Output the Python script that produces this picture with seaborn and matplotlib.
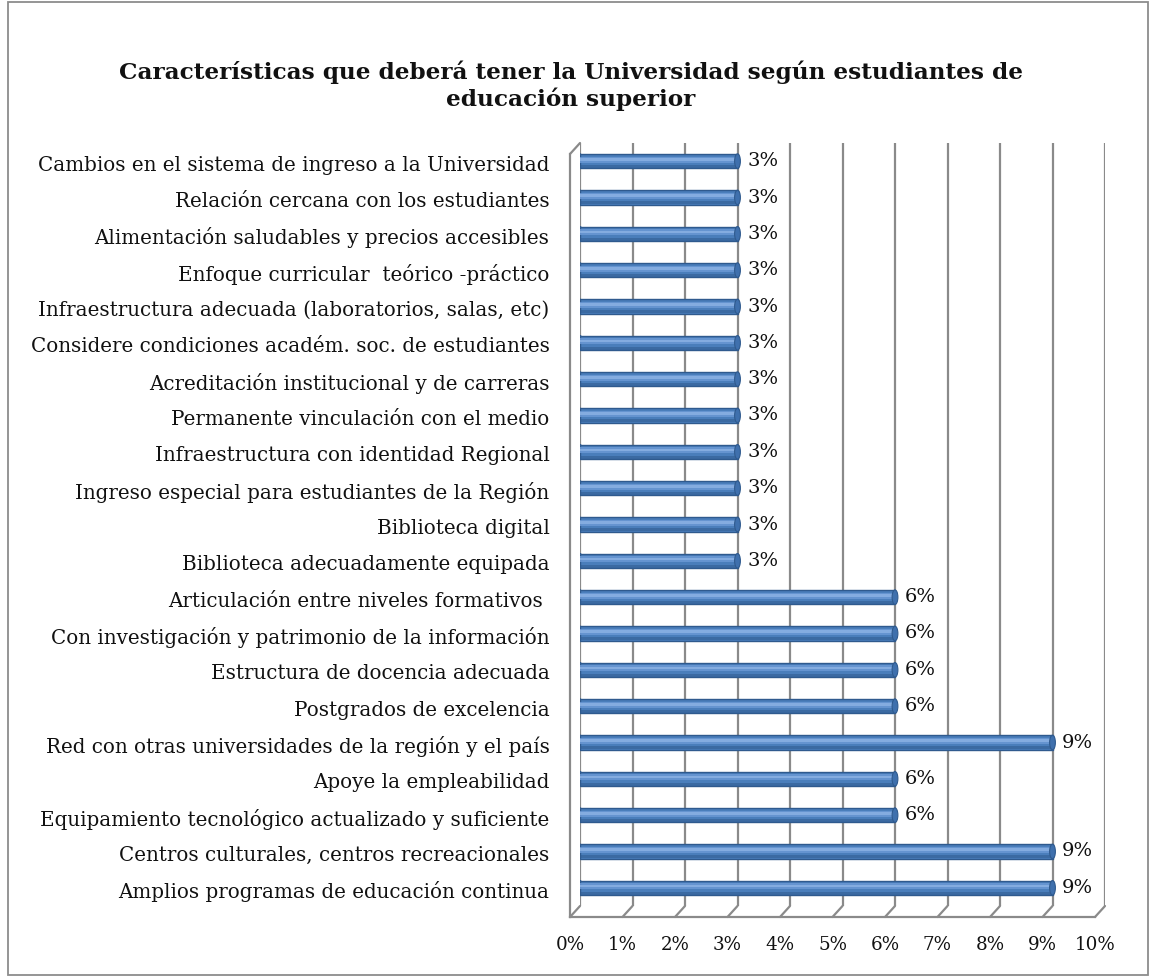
import matplotlib
matplotlib.use("Agg")
import matplotlib.pyplot as plt
import seaborn as sns
import pandas as pd
import numpy as np
from matplotlib.patches import Rectangle, ConnectionPatch, Ellipse
from matplotlib.ticker import PercentFormatter
from matplotlib.transforms import ScaledTranslation

# ---- data -------------------------------------------------------------
caracteristicas = [
    "Cambios en el sistema de ingreso a la Universidad",
    "Relación cercana con los estudiantes",
    "Alimentación saludables y precios accesibles",
    "Enfoque curricular  teórico -práctico",
    "Infraestructura adecuada (laboratorios, salas, etc)",
    "Considere condiciones académ. soc. de estudiantes",
    "Acreditación institucional y de carreras",
    "Permanente vinculación con el medio",
    "Infraestructura con identidad Regional",
    "Ingreso especial para estudiantes de la Región",
    "Biblioteca digital",
    "Biblioteca adecuadamente equipada",
    "Articulación entre niveles formativos ",
    "Con investigación y patrimonio de la información",
    "Estructura de docencia adecuada",
    "Postgrados de excelencia",
    "Red con otras universidades de la región y el país",
    "Apoye la empleabilidad",
    "Equipamiento tecnológico actualizado y suficiente",
    "Centros culturales, centros recreacionales",
    "Amplios programas de educación continua",
]
porcentajes = [0.03] * 12 + [0.06, 0.06, 0.06, 0.06, 0.09, 0.06, 0.06, 0.09, 0.09]
ticks_x = [i / 100 for i in range(11)]

titulo = ("Características que deberá tener la Universidad según estudiantes de\n"
          "educación superior")

df = pd.DataFrame({"caracteristica": caracteristicas, "valor": porcentajes})

# ---- figure -----------------------------------------------------------
W, H = 1150, 977
sns.set_theme(style="white")
plt.rcParams["font.family"] = ["DejaVu Serif"]

fig = plt.figure(figsize=(W / 100, H / 100), dpi=100)


def rect(x0, y0, x1, y1):
    """Pixel box (top-left origin) -> figure fraction rect."""
    return [x0 / W, 1 - y1 / H, (x1 - x0) / W, (y1 - y0) / H]


GRID = "#8a8a8a"
BAR = "#4a7ebb"
EDGE = "#2f5a8e"
TEXT = "#111111"
BAR_H = 0.40

# back wall (holds the bars and gridlines)
ax = fig.add_axes(rect(580, 143, 1105, 906))
# front edge of the floor / left wall (holds axis ticks and labels)
dx, dy = -10, 11
front = fig.add_axes(rect(580 + dx, 143 + dy, 1105 + dx, 906 + dy), zorder=0)
front.patch.set_alpha(0)
ax.patch.set_alpha(0)
ax.set_zorder(1)

n = len(caracteristicas)
pos = np.arange(n)

# gridlines on the back wall
for x in ticks_x:
    ax.axvline(x, color=GRID, linewidth=1.6, zorder=0.5)

sns.barplot(data=df, x="valor", y="caracteristica", orient="h", color=BAR,
            width=BAR_H, edgecolor=EDGE, linewidth=1.0, saturation=1, ax=ax)
for p in ax.containers[0]:
    p.set_zorder(2)

# cylinder shading: light band above the centre, dark band below
ax.barh(pos - 0.04, porcentajes, height=0.17, color="#6a98d4", alpha=0.85,
        linewidth=0, zorder=3)
ax.barh(pos - 0.05, porcentajes, height=0.07, color="#8fb5e6", alpha=0.75,
        linewidth=0, zorder=3)
ax.barh(pos + 0.15, porcentajes, height=0.08, color="#2f5a8e", alpha=0.55,
        linewidth=0, zorder=3)
# rounded ends of each cylinder
for i, v in zip(pos, porcentajes):
    ax.add_patch(Ellipse((0, i), 0.0011, BAR_H, facecolor=BAR, edgecolor=EDGE,
                         linewidth=0.8, zorder=1.9))
    ax.add_patch(Ellipse((v, i), 0.0011, BAR_H, facecolor="#3f70ad",
                         edgecolor=EDGE, linewidth=0.8, zorder=4))

labels = ax.bar_label(ax.containers[0], labels=[f"{v:.0%}" for v in porcentajes],
                      padding=7, fontsize=14, color=TEXT)
for t in labels:
    t.set_transform(t.get_transform() + ScaledTranslation(0, -3 / 100, fig.dpi_scale_trans))

ax.set_xlim(0, 0.10)
ax.set_ylim(n - 0.5, -0.5)
ax.set_xticks(ticks_x)
ax.grid(False)
ax.tick_params(axis="x", length=0, labelbottom=False)
ax.tick_params(axis="y", length=0, pad=22, labelsize=14.3, labelcolor=TEXT)
for t in ax.get_yticklabels():
    t.set_transform(t.get_transform() + ScaledTranslation(0, -2 / 100, fig.dpi_scale_trans))
ax.set_xlabel("")
ax.set_ylabel("")
for s in ax.spines.values():
    s.set_visible(False)

# front axes: left wall edge and floor front edge
front.set_xlim(0, 0.10)
front.set_ylim(n - 0.5, -0.5)
front.set_xticks(ticks_x)
front.xaxis.set_major_formatter(PercentFormatter(1.0, decimals=0))
front.set_yticks(np.arange(-0.5, n, 1.0))
front.set_yticklabels([])
front.tick_params(axis="x", direction="out", length=7, width=1.4, color=GRID,
                  labelsize=13.2, labelcolor=TEXT, pad=7)
front.tick_params(axis="y", direction="out", length=6, width=1.4, color=GRID)
front.grid(False)
for side in ("top", "right"):
    front.spines[side].set_visible(False)
for side in ("left", "bottom"):
    front.spines[side].set_color(GRID)
    front.spines[side].set_linewidth(1.6)

# depth edges joining the back wall to the front edges
for x in ticks_x:
    fig.add_artist(ConnectionPatch(xyA=(x, n - 0.5), coordsA=ax.transData,
                                   xyB=(x, n - 0.5), coordsB=front.transData,
                                   color=GRID, linewidth=1.6))
fig.add_artist(ConnectionPatch(xyA=(0, -0.5), coordsA=ax.transData,
                               xyB=(0, -0.5), coordsB=front.transData,
                               color=GRID, linewidth=1.6))

# title and chart border
fig.text(571 / W, 1 - 86 / H, titulo, ha="center", va="center",
         fontsize=16.7, fontweight="bold", linespacing=1.2, color=TEXT)
fig.add_artist(Rectangle((8 / W, 1 - 975 / H), 1140 / W, 973 / H,
                         transform=fig.transFigure, fill=False,
                         edgecolor="#8c8c8c", linewidth=1.3))

fig.savefig("out.png", dpi=100)
